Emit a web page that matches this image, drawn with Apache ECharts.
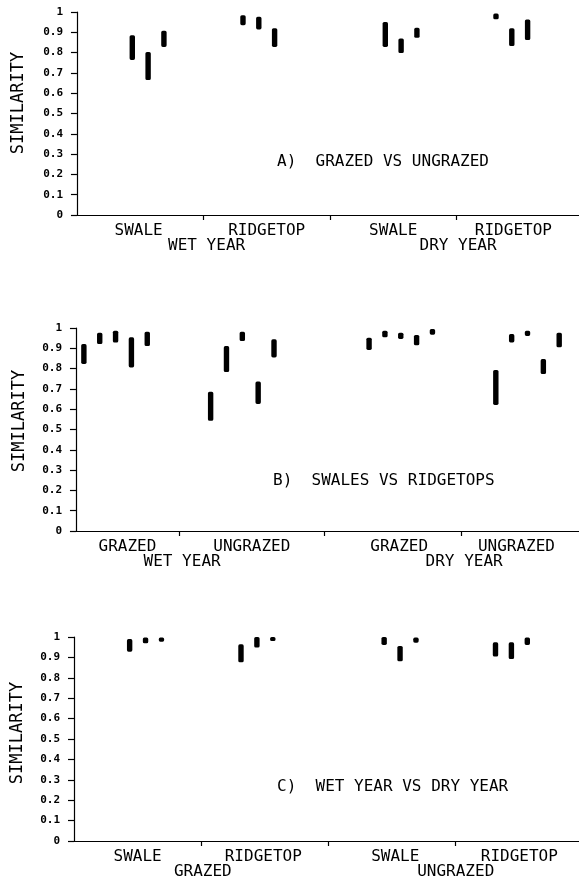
<!DOCTYPE html>
<html lang="en">
<head>
<meta charset="UTF-8">
<title>similarity</title>
<script src="https://cdn.jsdelivr.net/npm/echarts@6.0.0/dist/echarts.min.js"></script>
<style>
  html, body { margin: 0; padding: 0; background: #fff; }
  #chart { width: 579px; height: 882px; }
</style>
</head>
<body>
<div id="chart"></div>
<script>
// --- data ---------------------------------------------------------------
// slot of each bar on the x axis (bar is drawn in the middle of its slot)
var slotsA = [3, 4, 5, 10, 11, 12, 19, 20, 21, 26, 27, 28];
var lowA   = [0.764, 0.665, 0.828, 0.935, 0.914, 0.828, 0.828, 0.798, 0.873, 0.964, 0.832, 0.862];
var highA  = [0.886, 0.803, 0.908, 0.984, 0.976, 0.920, 0.951, 0.870, 0.922, 0.992, 0.920, 0.963];

var slotsB = [0, 1, 2, 3, 4, 8, 9, 10, 11, 12, 18, 19, 20, 21, 22, 26, 27, 28, 29, 30];
var lowB   = [0.823, 0.921, 0.928, 0.806, 0.911, 0.543, 0.783, 0.936, 0.626, 0.855,
              0.892, 0.954, 0.946, 0.915, 0.967, 0.621, 0.929, 0.961, 0.773, 0.905];
var highB  = [0.921, 0.977, 0.987, 0.954, 0.982, 0.686, 0.911, 0.982, 0.736, 0.944,
              0.952, 0.987, 0.977, 0.966, 0.995, 0.793, 0.970, 0.987, 0.847, 0.977];

var slotsC = [3, 4, 5, 10, 11, 12, 19, 20, 21, 26, 27, 28];
var lowC   = [0.928, 0.969, 0.977, 0.876, 0.948, 0.980, 0.961, 0.881, 0.972, 0.904, 0.892, 0.961];
var highC  = [0.990, 0.998, 0.997, 0.964, 1.000, 1.000, 1.000, 0.956, 0.997, 0.974, 0.974, 0.997];

var groupsA = ['SWALE', 'RIDGETOP', 'SWALE', 'RIDGETOP'];
var yearsA  = ['WET YEAR', 'DRY YEAR'];
var groupsB = ['GRAZED', 'UNGRAZED', 'GRAZED', 'UNGRAZED'];
var yearsB  = ['WET YEAR', 'DRY YEAR'];
var groupsC = ['SWALE', 'RIDGETOP', 'SWALE', 'RIDGETOP'];
var yearsC  = ['GRAZED', 'UNGRAZED'];

var titleA = 'A)  GRAZED VS UNGRAZED';
var titleB = 'B)  SWALES VS RIDGETOPS';
var titleC = 'C)  WET YEAR VS DRY YEAR';
var yName = 'SIMILARITY';

// --- layout -------------------------------------------------------------
var MONO = '"DejaVu Sans Mono", "Liberation Mono", monospace';
var panels = [
  { top: 12, height: 203, left: 73, slots: slotsA, low: lowA, high: highA,
    groups: groupsA, groupAt: [3.9, 12, 20, 27.6], ticksAt: [8, 16, 24],
    years: yearsA, yearAt: [8.2, 24.1], title: titleA, titleLeft: 277, titleTop: 154,
    nameX: 19, nameY: 103 },
  { top: 328, height: 203, left: 72, slots: slotsB, low: lowB, high: highB,
    groups: groupsB, groupAt: [3.25, 11.1, 20.4, 27.8], ticksAt: [6.5, 15.7, 24.3],
    years: yearsB, yearAt: [6.7, 24.5], title: titleB, titleLeft: 273, titleTop: 473,
    nameX: 20, nameY: 421 },
  { top: 637, height: 204, left: 70, slots: slotsC, low: lowC, high: highC,
    groups: groupsC, groupAt: [4, 11.9, 20.2, 28], ticksAt: [8, 16, 24],
    years: yearsC, yearAt: [8.1, 24], title: titleC, titleLeft: 277, titleTop: 779,
    nameX: 18, nameY: 733 }
];

function nameAt(values, names) {
  return function (v) {
    for (var i = 0; i < values.length; i++) {
      if (Math.abs(values[i] - v) < 1e-6) return names[i];
    }
    return '';
  };
}

function renderRange(params, api) {
  var x = api.value(0);
  var top = api.coord([x, api.value(2)]);
  var bot = api.coord([x, api.value(1)]);
  var w = 5.4;
  return {
    type: 'rect',
    shape: { x: top[0] - w / 2, y: top[1], width: w, height: bot[1] - top[1], r: 1.6 },
    style: { fill: '#000' }
  };
}

var grid = [], xAxis = [], yAxis = [], series = [], title = [], graphic = [];

panels.forEach(function (p, i) {
  grid.push({ left: p.left, top: p.top, height: p.height, right: 579 - p.left - 510 });

  // main x axis: group boundaries + group labels
  xAxis.push({
    type: 'value', gridIndex: i, min: -0.25, max: 31.75,
    splitLine: { show: false },
    axisLine: { show: true, onZero: false, lineStyle: { color: '#000', width: 1.2 } },
    axisTick: { show: true, customValues: p.ticksAt, length: 5, lineStyle: { color: '#000', width: 1.2 } },
    axisLabel: {
      customValues: p.groupAt, formatter: nameAt(p.groupAt, p.groups), margin: 8,
      color: '#000', fontFamily: MONO, fontSize: 16
    }
  });
  // second row of labels (year / treatment)
  xAxis.push({
    type: 'value', gridIndex: i, min: -0.25, max: 31.75, position: 'bottom', offset: 15,
    splitLine: { show: false },
    axisLine: { show: false }, axisTick: { show: false },
    axisLabel: {
      customValues: p.yearAt, formatter: nameAt(p.yearAt, p.years), margin: 8,
      color: '#000', fontFamily: MONO, fontSize: 16
    }
  });

  yAxis.push({
    type: 'value', gridIndex: i, min: 0, max: 1, interval: 0.1,
    splitLine: { show: false },
    axisLine: { show: true, lineStyle: { color: '#000', width: 1.2 } },
    axisTick: { show: true, length: 6, lineStyle: { color: '#000', width: 1.2 } },
    axisLabel: {
      margin: 10, color: '#000', fontFamily: MONO, fontSize: 11, fontWeight: 'bold',
      formatter: function (v) { return v === 0 ? '0' : v === 1 ? '1' : v.toFixed(1); }
    }
  });

  var data = p.slots.map(function (s, k) { return [s + 0.5, p.low[k], p.high[k]]; });
  series.push({
    type: 'custom', xAxisIndex: 2 * i, yAxisIndex: i,
    renderItem: renderRange,
    encode: { x: 0, y: [1, 2] },
    data: data,
    silent: true
  });

  title.push({
    text: p.title, left: p.titleLeft, top: p.titleTop, padding: 0,
    textStyle: { fontFamily: MONO, fontSize: 16, fontWeight: 'normal', color: '#000' }
  });

  graphic.push({
    type: 'text', x: p.nameX, y: p.nameY, rotation: Math.PI / 2,
    style: {
      text: yName, fill: '#000', font: '17px ' + MONO,
      align: 'center', verticalAlign: 'middle'
    }
  });
});

var chart = echarts.init(document.getElementById('chart'));
chart.setOption({
  animation: false,
  backgroundColor: '#fff',
  title: title,
  grid: grid,
  xAxis: xAxis,
  yAxis: yAxis,
  series: series,
  graphic: graphic
});
</script>
</body>
</html>
